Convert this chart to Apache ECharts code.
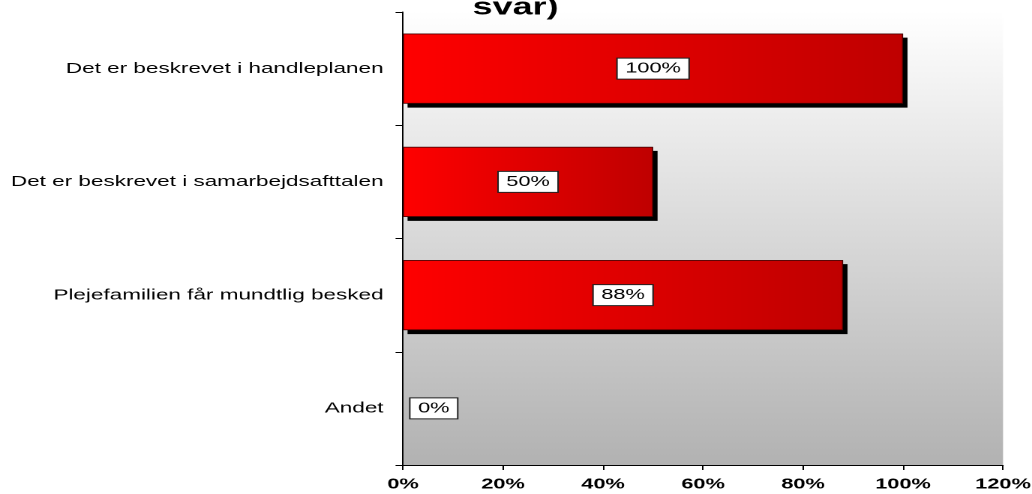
<!DOCTYPE html>
<html>
<head>
<meta charset="utf-8">
<script src="https://cdn.jsdelivr.net/npm/echarts@6/dist/echarts.min.js"></script>
<style>
  html, body { margin: 0; padding: 0; background: #fff; overflow: hidden; }
  /* originalen er strakt vandret, saa diagrammet tegnes smallere og strakkes 1.5x */
  #chart { width: 688px; height: 494px; transform: scaleX(1.5); transform-origin: 0 0; }
</style>
</head>
<body>
<div id="chart"></div>
<script>
// kategorier, nederst foerst (yAxis tegnes nedefra)
const categories = [
  'Andet',
  'Plejefamilien får mundtlig besked',
  'Det er beskrevet i samarbejdsafttalen',
  'Det er beskrevet i handleplanen'
]
const values = [0, 88, 50, 100]
const xTicks = [0, 20, 40, 60, 80, 100, 120]

const redFill = new echarts.graphic.LinearGradient(0, 0, 1, 0, [
  { offset: 0, color: '#ff0000' },
  { offset: 1, color: '#bf0000' }
])

const labelStyle = {
  show: true,
  position: 'inside',
  formatter: '{c}%',
  fontFamily: 'Liberation Sans',
  fontSize: 14.5,
  color: '#000',
  backgroundColor: '#fff',
  borderColor: '#222',
  borderWidth: 1,
  padding: [3, 5, 2, 5]
}

const mychart = echarts.init(document.getElementById('chart'), null, { devicePixelRatio: 2 })
mychart.setOption({
  animation: false,
  title: {
    text: 'svar)',
    left: 310,
    top: -9,
    textStyle: {
      fontFamily: 'Liberation Sans',
      fontWeight: 'bold',
      fontSize: 24,
      color: '#000'
    }
  },
  grid: {
    left: 268.7,
    right: 19.3,
    top: 12,
    bottom: 29,
    outerBoundsMode: 'none',
    show: true,
    borderWidth: 0,
    backgroundColor: new echarts.graphic.LinearGradient(0, 0, 0, 1, [
      { offset: 0, color: '#ffffff' },
      { offset: 1, color: '#b2b2b2' }
    ])
  },
  xAxis: {
    type: 'value',
    min: xTicks[0],
    max: xTicks[xTicks.length - 1],
    interval: 20,
    splitLine: { show: false },
    axisLine: { show: true, lineStyle: { color: '#000', width: 1 } },
    axisTick: { show: true, length: 5, lineStyle: { color: '#000' } },
    axisLabel: {
      margin: 12,
      formatter: '{value}%',
      fontFamily: 'Liberation Sans',
      fontWeight: 'bold',
      fontSize: 14.5,
      color: '#000'
    }
  },
  yAxis: {
    type: 'category',
    data: categories,
    axisLine: { show: true, lineStyle: { color: '#000', width: 1 } },
    axisTick: { show: true, length: 5, lineStyle: { color: '#000' } },
    axisLabel: {
      margin: 13,
      fontFamily: 'Liberation Sans',
      fontSize: 15,
      color: '#000'
    }
  },
  series: [
    {
      // sort skygge bag soejlerne
      type: 'bar',
      data: values,
      barWidth: 70,
      silent: true,
      itemStyle: {
        color: '#000',
        shadowColor: '#000',
        shadowBlur: 0,
        shadowOffsetX: 3,
        shadowOffsetY: 4
      }
    },
    {
      type: 'bar',
      data: values.map(v => v === 0
        ? { value: v, itemStyle: { borderWidth: 0 }, label: { position: 'right', distance: 5 } }
        : v),
      barWidth: 70,
      barGap: '-100%',
      itemStyle: {
        color: redFill,
        borderColor: '#500000',
        borderWidth: 0.7
      },
      label: labelStyle
    }
  ]
})
</script>
</body>
</html>
